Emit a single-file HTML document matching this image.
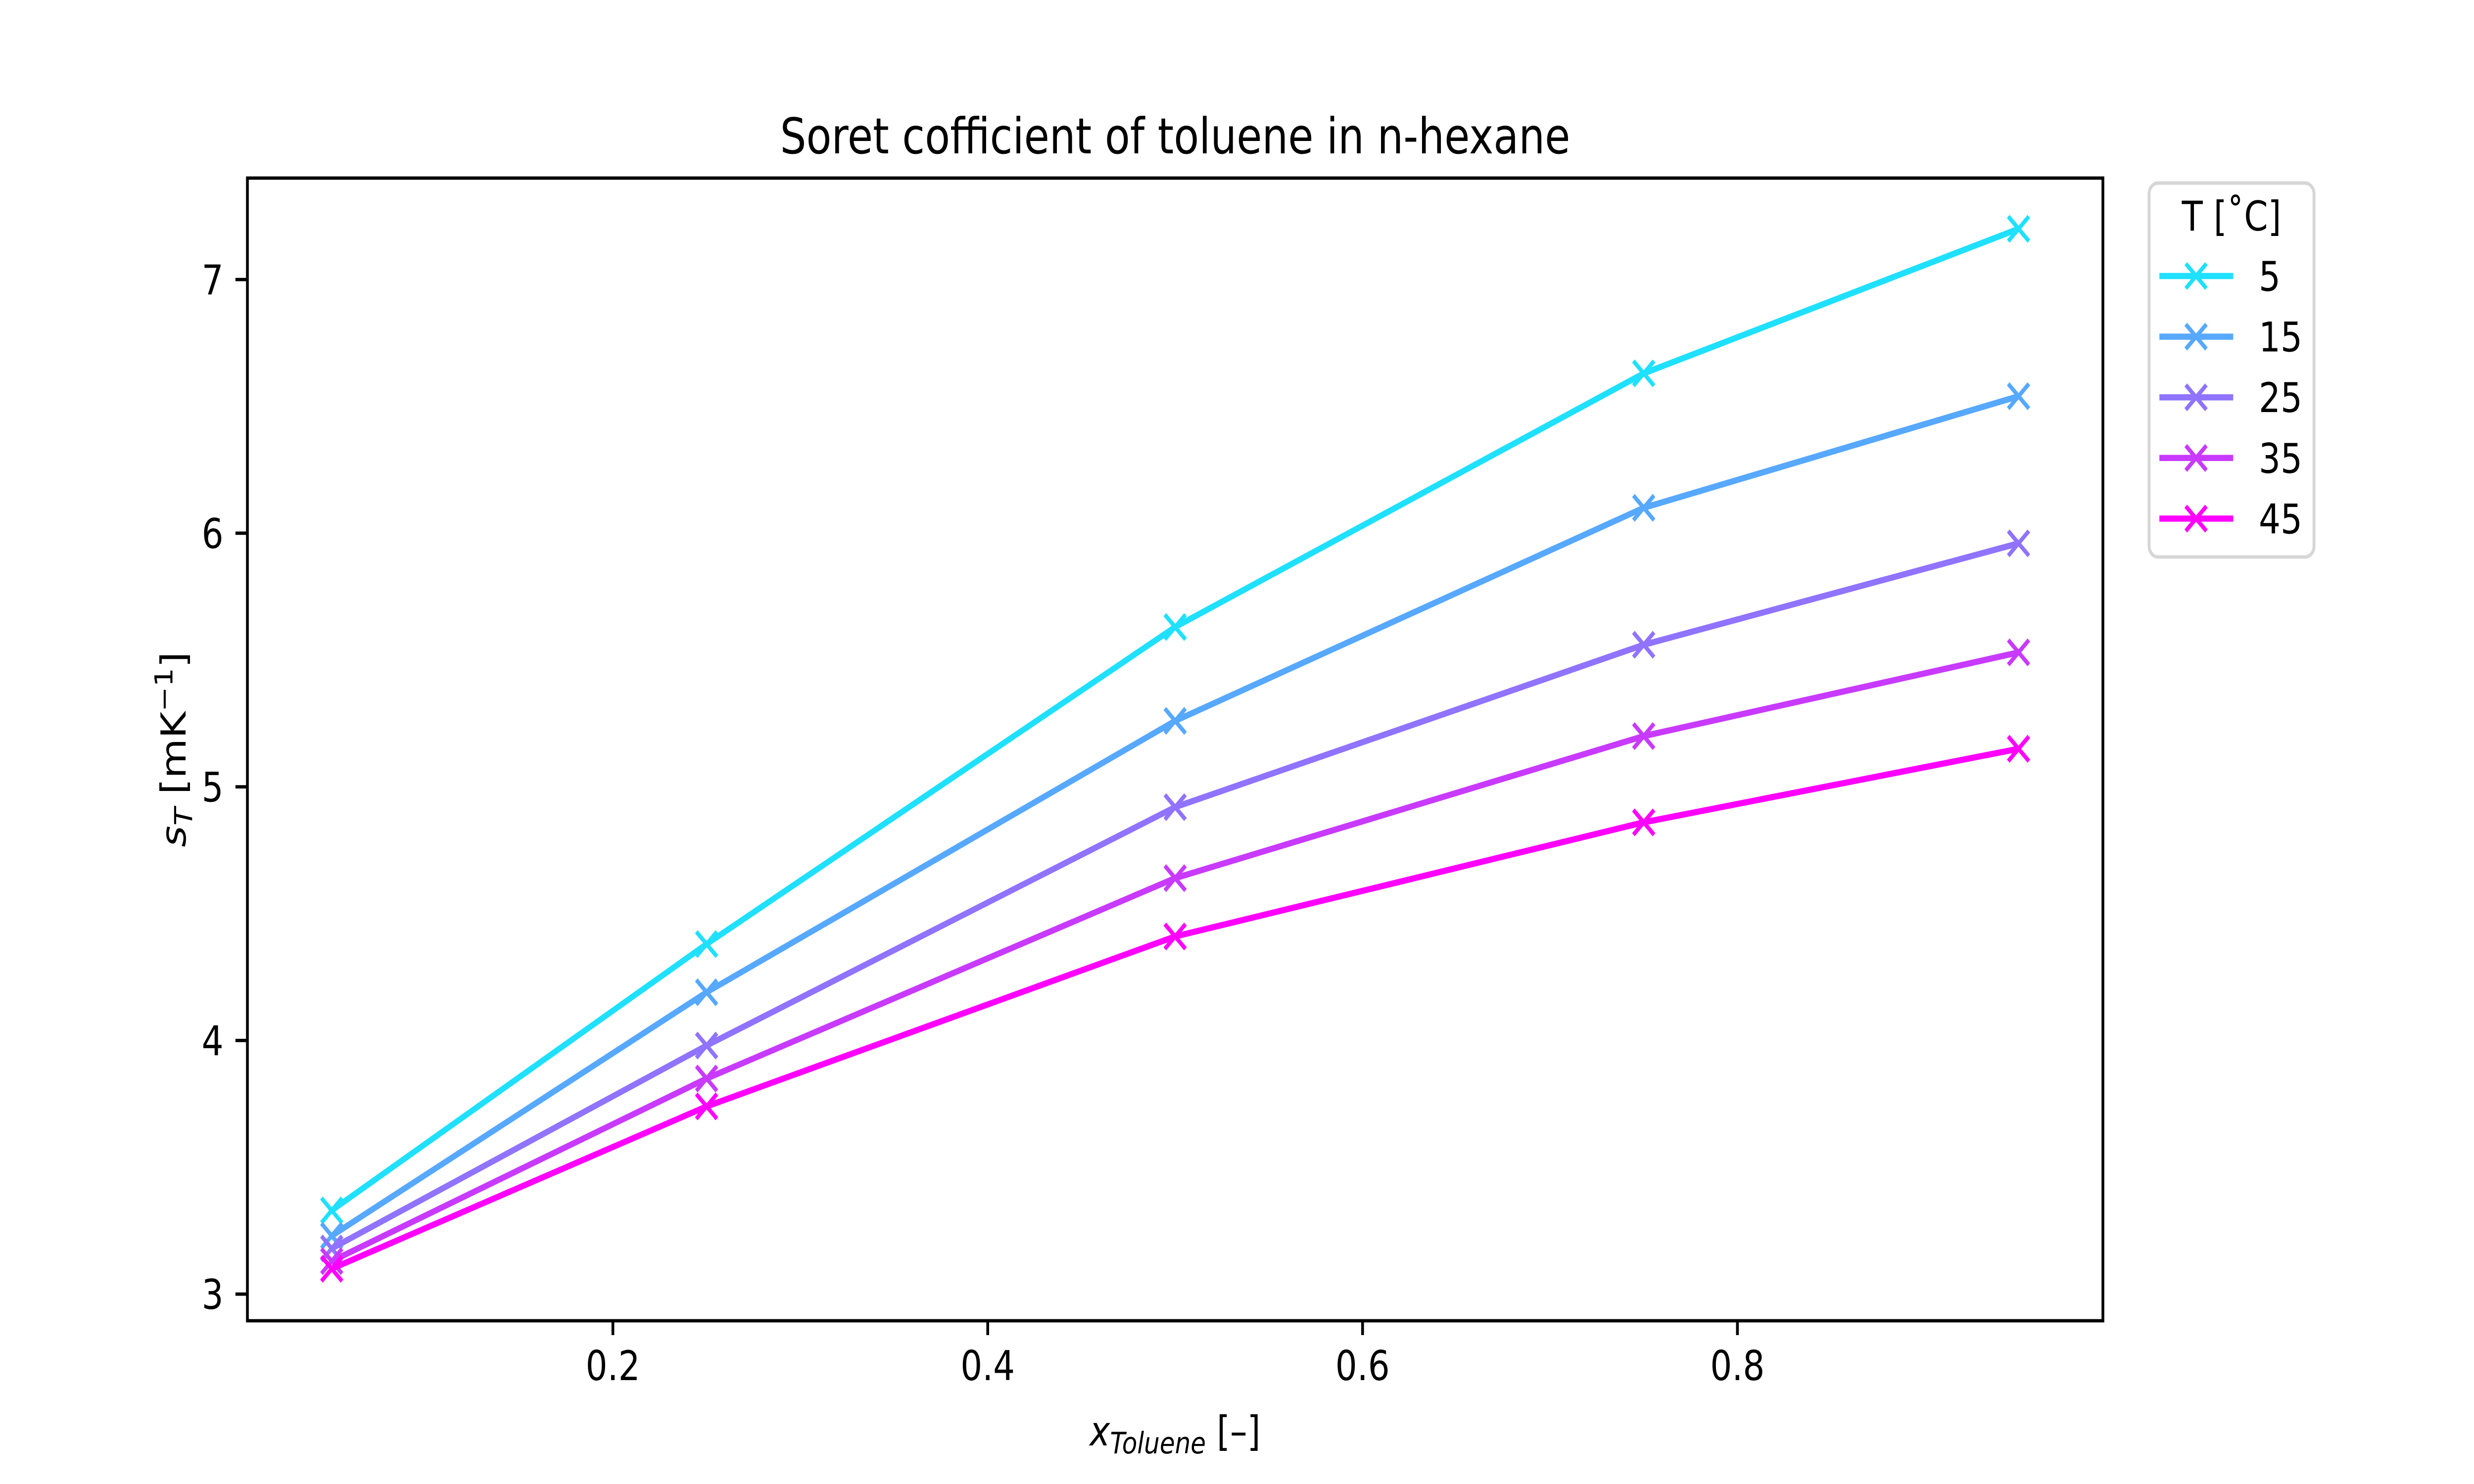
<!DOCTYPE html>
<html><head><meta charset="utf-8"><style>
html,body{margin:0;padding:0;background:#fff;width:100%;height:100%;overflow:hidden;}
svg{display:block;width:100vw;height:100vh;font-family:"DejaVu Sans","Liberation Sans",sans-serif;}
</style></head><body>
<svg id="chart" viewBox="0 0 6000 3000" preserveAspectRatio="none" xmlns="http://www.w3.org/2000/svg">
<rect x="0" y="0" width="6000" height="3000" fill="#fff"/>
<text x="2850" y="310" font-size="100" text-anchor="middle">Soret cofficient of toluene in n-hexane</text>
<g id="plot"></g>
<g id="axes"></g>
<text x="2850" y="2922" font-size="83" text-anchor="middle"><tspan font-style="italic">x</tspan><tspan font-style="italic" font-size="60" dy="16">Toluene</tspan><tspan dy="-16"> [–]</tspan></text>
<text transform="translate(450,1515) rotate(-90)" font-size="83" text-anchor="middle"><tspan font-style="italic">s</tspan><tspan font-style="italic" font-size="60" dy="16">T</tspan><tspan dy="-16"> [mK</tspan><tspan font-size="60" dy="-32">−1</tspan><tspan dy="32">]</tspan></text>
<g id="legend">
<rect x="5212" y="370" width="400" height="756" rx="22" fill="#fff" stroke="#d6d6d6" stroke-width="7"/>
<text x="5412" y="466" font-size="83" text-anchor="middle">T [˚C]</text>
</g>
</svg>
<script>
const xValues = [0.05, 0.25, 0.5, 0.75, 0.95];
const seriesLabels = ["5", "15", "25", "35", "45"];
const series5 = [3.33, 4.38, 5.63, 6.63, 7.20];
const series15 = [3.23, 4.19, 5.26, 6.10, 6.54];
const series25 = [3.18, 3.98, 4.92, 5.56, 5.96];
const series35 = [3.13, 3.85, 4.64, 5.20, 5.53];
const series45 = [3.10, 3.74, 4.41, 4.86, 5.15];
const xTicks = [0.2, 0.4, 0.6, 0.8];
const xTickLabels = ["0.2", "0.4", "0.6", "0.8"];
const yTicks = [3, 4, 5, 6, 7];
const yTickLabels = ["3", "4", "5", "6", "7"];

const NS = "http://www.w3.org/2000/svg";
const L = 600, R = 5100, T = 360, B = 2670;
const xMin = 0.005, xMax = 0.995, yMin = 2.895, yMax = 7.4;
const sx = v => L + (v - xMin) / (xMax - xMin) * (R - L);
const sy = v => B - (v - yMin) / (yMax - yMin) * (B - T);
const colors = ["#1fe0ff", "#57a8ff", "#9073ff", "#c83aff", "#ff00ff"];
const allSeries = [series5, series15, series25, series35, series45];

function mk(tag, attrs, parent) {
  const e = document.createElementNS(NS, tag);
  for (const k in attrs) e.setAttribute(k, attrs[k]);
  parent.appendChild(e);
  return e;
}
function cross(parent, cx, cy, color) {
  const s = 25;
  return mk("path", {d: `M${cx-s},${cy-s}L${cx+s},${cy+s}M${cx-s},${cy+s}L${cx+s},${cy-s}`, stroke: color, "stroke-width": 9, fill: "none"}, parent);
}
const plot = document.getElementById("plot");
const axes = document.getElementById("axes");
const legend = document.getElementById("legend");

allSeries.forEach((vals, i) => {
  const g = mk("g", {}, plot);
  
  
  const pts = vals.map((v, j) => sx(xValues[j]) + "," + sy(v)).join(" ");
  const line = mk("polyline", {points: pts, fill: "none", stroke: colors[i], "stroke-width": 12.5, "stroke-linejoin": "round", "stroke-linecap": "square"}, g);
  
  
  vals.forEach((v, j) => {
    const m = cross(g, sx(xValues[j]), sy(v), colors[i]);
    
    
  });
  const ly = 558 + i * 122.6;
  const lg = mk("g", {}, legend);
  
  
  mk("line", {x1: 5237, x2: 5416, y1: ly, y2: ly, stroke: colors[i], "stroke-width": 12.5}, lg);
  cross(lg, 5326, ly, colors[i]);
  const t = mk("text", {x: 5478, y: ly + 30, "font-size": 83}, lg);
  t.textContent = seriesLabels[i];
});

const frame = mk("rect", {x: L, y: T, width: R - L, height: B - T, fill: "none", stroke: "#000", "stroke-width": 6.7}, axes);


xTicks.forEach((v, i) => {
  const x = sx(v);
  const tk = mk("line", {x1: x, x2: x, y1: B, y2: B + 29, stroke: "#000", "stroke-width": 6.7}, axes);
  
  
  const t = mk("text", {x: x, y: 2790, "font-size": 83, "text-anchor": "middle"}, axes);
  
  
  t.textContent = xTickLabels[i];
});
yTicks.forEach((v, i) => {
  const y = sy(v);
  const tk = mk("line", {x1: L - 29, x2: L, y1: y, y2: y, stroke: "#000", "stroke-width": 6.7}, axes);
  
  
  const t = mk("text", {x: 542, y: y + 30, "font-size": 83, "text-anchor": "end"}, axes);
  
  
  t.textContent = yTickLabels[i];
});
</script>
</body></html>
